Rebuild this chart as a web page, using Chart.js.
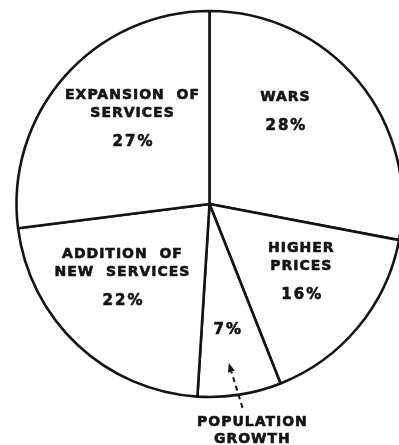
<!DOCTYPE html>
<html>
<head>
<meta charset="utf-8">
<script src="https://cdn.jsdelivr.net/npm/chart.js@4.4.1/dist/chart.umd.min.js"></script>
<style>
  html, body { margin: 0; padding: 0; background: #fff; overflow: hidden; }
  #wrap { position: relative; width: 399px; height: 445px; }
</style>
</head>
<body>
<div id="wrap"><canvas id="c" width="399" height="445"></canvas></div>
<script>
// ---- data ----
const categories = ["WARS", "HIGHER PRICES", "POPULATION GROWTH", "ADDITION OF NEW SERVICES", "EXPANSION OF SERVICES"];
const shares = [28, 16, 7, 22, 27];
const labelLines = [["WARS"], ["HIGHER", "PRICES"], [], ["ADDITION  OF", "NEW  SERVICES"], ["EXPANSION  OF", "SERVICES"]];
const outsideLabel = ["POPULATION", "GROWTH"];

// ---- label placement (angle shift from slice middle in degrees, radius fraction) ----
const placement = [
  { dAng: -11.0, rf: 0.62 },
  { dAng: -3.3, rf: 0.59 },
  { dAng: 1.0, rf: 0.66 },
  { dAng: 6.4, rf: 0.592 },
  { dAng: 6.6, rf: 0.596 }
];
const FONT = 'bold 14px "DejaVu Sans"';
const PCT_FONT = 'bold 15px "DejaVu Sans"';
const INK = '#141414';

function polar(cx, cy, angRad, r) {
  return { x: cx + Math.cos(angRad) * r, y: cy + Math.sin(angRad) * r };
}

function heavyText(ctx, t, x, y) {
  ctx.fillText(t, x, y);
  ctx.strokeText(t, x, y);
}

const labelPlugin = {
  id: 'sliceLabels',
  afterDatasetsDraw(chart) {
    const ctx = chart.ctx;
    const arcs = chart.getDatasetMeta(0).data;
    ctx.save();
    ctx.fillStyle = INK;
    ctx.strokeStyle = INK;
    ctx.lineWidth = 0.6;
    ctx.textAlign = 'center';
    ctx.textBaseline = 'middle';
    arcs.forEach((arc, i) => {
      const p = arc.getProps(['x', 'y', 'startAngle', 'endAngle', 'outerRadius'], true);
      const mid = (p.startAngle + p.endAngle) / 2 + placement[i].dAng * Math.PI / 180;
      const c = polar(p.x, p.y, mid, p.outerRadius * placement[i].rf);
      const lines = labelLines[i];
      const pct = shares[i] + '%';
      const nameGap = 18, pctGap = 29;
      const blockH = lines.length ? (lines.length - 1) * nameGap + pctGap : 0;
      let y = c.y - blockH / 2;
      ctx.font = FONT;
      ctx.letterSpacing = '1px';
      lines.forEach(t => { heavyText(ctx, t, c.x, y); y += nameGap; });
      if (lines.length) y += pctGap - nameGap;
      ctx.font = PCT_FONT;
      ctx.letterSpacing = '2px';
      heavyText(ctx, pct, c.x + 1, y);
    });
    // outside label for the small slice, with dashed arrow
    const arc = arcs[2];
    const p = arc.getProps(['x', 'y', 'startAngle', 'endAngle', 'outerRadius'], true);
    const mid = (p.startAngle + p.endAngle) / 2;
    ctx.font = FONT;
    ctx.letterSpacing = '1px';
    const lc = polar(p.x, p.y, mid - 1.7 * Math.PI / 180, p.outerRadius * 1.197);
    heavyText(ctx, outsideLabel[0], lc.x, lc.y - 8.5);
    heavyText(ctx, outsideLabel[1], lc.x, lc.y + 8.5);
    const tail = polar(p.x, p.y, mid - 0.2 * Math.PI / 180, p.outerRadius * 1.07);
    const head = polar(p.x, p.y, mid + 2.1 * Math.PI / 180, p.outerRadius * 0.83);
    const ang = Math.atan2(head.y - tail.y, head.x - tail.x);
    const hl = 9, hw = 3.5;
    const base = { x: head.x - Math.cos(ang) * hl, y: head.y - Math.sin(ang) * hl };
    ctx.lineWidth = 2;
    ctx.setLineDash([5, 4]);
    ctx.beginPath();
    ctx.moveTo(tail.x, tail.y);
    ctx.lineTo(base.x, base.y);
    ctx.stroke();
    ctx.setLineDash([]);
    ctx.beginPath();
    ctx.moveTo(head.x, head.y);
    ctx.lineTo(base.x + Math.sin(ang) * hw, base.y - Math.cos(ang) * hw);
    ctx.lineTo(base.x - Math.sin(ang) * hw, base.y + Math.cos(ang) * hw);
    ctx.closePath();
    ctx.fill();
    ctx.restore();
  }
};

new Chart(document.getElementById('c'), {
  type: 'pie',
  data: {
    labels: categories,
    datasets: [{
      data: shares,
      backgroundColor: '#ffffff',
      borderColor: INK,
      borderWidth: 2.6,
      borderAlign: 'center',
      radius: 193,
      clip: false,
      hoverOffset: 0
    }]
  },
  options: {
    responsive: false,
    animation: false,
    events: [],
    layout: { padding: { left: 20, right: 0, top: 0, bottom: 37 } },
    plugins: { legend: { display: false }, tooltip: { enabled: false } }
  },
  plugins: [labelPlugin]
});
</script>
</body>
</html>
